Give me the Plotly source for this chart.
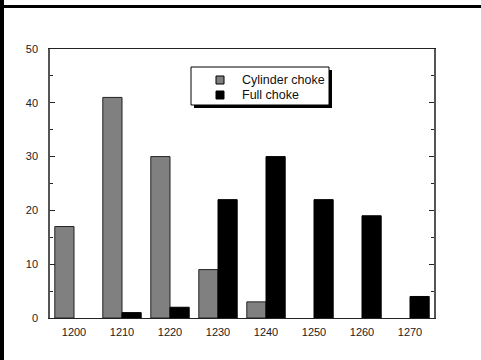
import plotly.graph_objects as go

categories = ["1200", "1210", "1220", "1230", "1240", "1250", "1260", "1270"]
cylinder_choke = [17, 41, 30, 9, 3, 0, 0, 0]
full_choke = [0, 1, 2, 22, 30, 22, 19, 4]
y_ticks = [0, 10, 20, 30, 40, 50]
series_names = ["Cylinder choke", "Full choke"]
series_colors = ["#808080", "#000000"]

W, H = 481, 360
ML, MR, MT, MB = 50, 47, 49, 42
PW, PH = W - ML - MR, H - MT - MB


def px(x):
    return (x - ML) / PW


def py(y):
    return (H - MB - y) / PH


fig = go.Figure()
for name, vals, col, lc in zip(series_names, [cylinder_choke, full_choke],
                               series_colors, ["#222", "#000"]):
    fig.add_trace(go.Bar(x=categories, y=vals, name=name,
                         marker=dict(color=col,
                                     line=dict(color=lc,
                                               width=[1 if v else 0 for v in vals])),
                         showlegend=False))

shapes = [
    # top black band
    dict(type="rect", xref="paper", yref="paper", x0=px(-5), x1=px(W + 5),
         y0=py(8), y1=py(5), fillcolor="black", line=dict(width=0), layer="above"),
    # left black band
    dict(type="rect", xref="paper", yref="paper", x0=px(-5), x1=px(4),
         y0=py(H + 5), y1=py(-5), fillcolor="black", line=dict(width=0), layer="above"),
    # legend shadow
    dict(type="rect", xref="paper", yref="paper", x0=px(194), x1=px(332),
         y0=py(108), y1=py(70), fillcolor="black", line=dict(width=0), layer="above"),
    # legend box
    dict(type="rect", xref="paper", yref="paper", x0=px(191), x1=px(329),
         y0=py(105), y1=py(67), fillcolor="white", line=dict(color="black", width=1),
         layer="above"),
]
annotations = []
for i, (name, col) in enumerate(zip(series_names, series_colors)):
    cy = 80 + 15 * i
    shapes.append(dict(type="rect", xref="paper", yref="paper",
                       x0=px(216), x1=px(224), y0=py(cy + 4), y1=py(cy - 4),
                       fillcolor=col, line=dict(color="black", width=1), layer="above"))
    annotations.append(dict(text=name, xref="paper", yref="paper", x=px(240), y=py(cy),
                            xanchor="left", yanchor="middle", showarrow=False,
                            font=dict(size=12.5, color="#111")))

fig.update_layout(
    width=W, height=H,
    margin=dict(l=ML, r=MR, t=MT, b=MB, pad=0),
    paper_bgcolor="white", plot_bgcolor="white",
    barmode="group", bargap=0.2, bargroupgap=0,
    font=dict(family="Liberation Sans, Arial, sans-serif", size=11, color="#222"),
    showlegend=False,
    shapes=shapes,
    annotations=annotations,
    xaxis=dict(type="category", range=[-0.5, 7.5], showline=True, linecolor="#222",
               linewidth=1, mirror=True, ticks="", showgrid=False, zeroline=False,
               tickfont=dict(size=11), ticklabelstandoff=4),
    yaxis=dict(range=[0, 50], tickvals=y_ticks, showline=True, linecolor="#555",
               linewidth=1.5, mirror="ticks", ticks="inside", ticklen=5, tickwidth=1,
               tickcolor="#222", showgrid=False, zeroline=False,
               tickfont=dict(size=11), ticklabelstandoff=8,
               minor=dict(dtick=5, ticks="inside", ticklen=3, tickcolor="#222")),
)

fig.write_html("out.html")
